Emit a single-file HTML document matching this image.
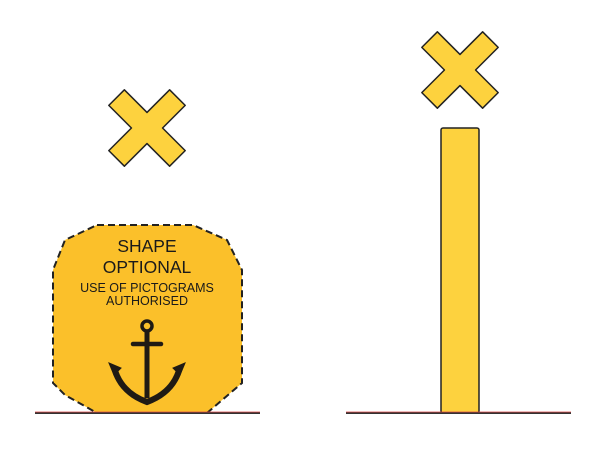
<!DOCTYPE html>
<html><head><meta charset="utf-8"><style>
html,body{margin:0;padding:0;background:#fff;}
svg{display:block;}
text{font-family:"Liberation Sans",sans-serif;fill:#1a1a1a;}
</style></head><body>
<svg width="604" height="450" viewBox="0 0 604 450">
<defs>
<polygon id="xshape" points="-11,-43 11,-43 11,-11 43,-11 43,11 11,11 11,43 -11,43 -11,11 -43,11 -43,-11 -11,-11"/>
</defs>
<g transform="translate(147,128) rotate(45)">
<use href="#xshape" fill="#fdd23e" stroke="#222" stroke-width="1.5" stroke-linejoin="round"/>
</g>
<g transform="translate(460,70) rotate(45)">
<use href="#xshape" fill="#fdd23e" stroke="#222" stroke-width="1.5" stroke-linejoin="round"/>
</g>
<polygon points="97,225 193,225 227,240 242,270 242,383 207,413 97,413 65,395 53,383 53,270 65,240" fill="#fbc02a" stroke="#222" stroke-width="2" stroke-dasharray="7,4"/>
<g text-anchor="middle">
<text x="147" y="252" font-size="17.5">SHAPE</text>
<text x="147" y="273" font-size="17.5">OPTIONAL</text>
<text x="147" y="292" font-size="12.5">USE OF PICTOGRAMS</text>
<text x="147" y="305" font-size="12.5">AUTHORISED</text>
</g>
<g stroke="#1f1a14" fill="none">
<circle cx="147" cy="326" r="5" stroke-width="3.5"/>
<line x1="147" y1="331" x2="147" y2="398" stroke-width="5"/>
<line x1="133" y1="344" x2="161" y2="344" stroke-width="4.5" stroke-linecap="round"/>
<path d="M114,367 Q120,392 147,402 Q174,392 180,367" stroke-width="6"/>
<path d="M109,363 L121,368 L114,375 Z M185,363 L173,368 L180,375 Z" fill="#1f1a14" stroke-width="1"/>
</g>
<rect x="441" y="128" width="38" height="285" rx="2" fill="#fdd23e" stroke="#222" stroke-width="1.5"/>
<line x1="35" y1="413" x2="260" y2="413" stroke="#333" stroke-width="2"/>
<line x1="35" y1="412" x2="260" y2="412" stroke="#d44" stroke-width="0.8"/>
<line x1="346" y1="413" x2="571" y2="413" stroke="#333" stroke-width="2"/>
<line x1="346" y1="412" x2="571" y2="412" stroke="#d44" stroke-width="0.8"/>
</svg>
</body></html>
